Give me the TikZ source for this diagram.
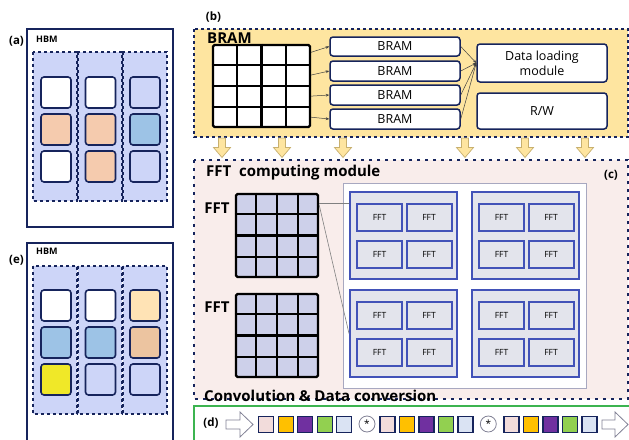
\documentclass[tikz,border=0pt]{standalone}
\usepackage{fontspec}
\setmainfont{Open Sans}
\usetikzlibrary{calc,arrows.meta}

\definecolor{navy}{RGB}{22,36,92}
\definecolor{lav}{RGB}{205,213,248}
\definecolor{peach}{RGB}{245,203,174}
\definecolor{skyb}{RGB}{157,195,230}
\definecolor{cream}{RGB}{255,227,181}
\definecolor{tanc}{RGB}{236,196,160}
\definecolor{lemon}{RGB}{240,232,40}
\definecolor{bramyel}{RGB}{254,229,160}
\definecolor{fftpink}{RGB}{249,237,235}
\definecolor{grpblue}{RGB}{66,82,184}
\definecolor{grpfill}{RGB}{227,228,236}
\definecolor{gridlav}{RGB}{205,208,234}
\definecolor{dgreen}{RGB}{60,180,80}
\definecolor{cpink}{RGB}{242,220,219}
\definecolor{cgold}{RGB}{255,192,0}
\definecolor{cpurp}{RGB}{112,48,160}
\definecolor{cgreen}{RGB}{146,208,80}
\definecolor{cblue}{RGB}{218,227,243}
\definecolor{arrowedge}{RGB}{200,176,110}
\definecolor{hollowedge}{RGB}{130,130,150}
\definecolor{framegray}{RGB}{168,168,192}

\tikzset{
  hbm/.style={draw=navy, line width=1.5pt, fill=white, minimum width=146pt, inner sep=0pt},
  hbmcol/.style={draw=navy, fill=lav, dashed, line width=1.2pt},
  hbmcell/.style={draw=navy, line width=1.6pt, rounded corners=3pt, minimum width=30pt, minimum height=31pt, inner sep=0pt},
  tag/.style={font=\bfseries\fontsize{11.5}{13}\selectfont, inner sep=0pt},
  bramcell/.style={draw=navy, line width=1.5pt, rounded corners=3pt, fill=white, minimum width=130pt, inner sep=0pt, font=\fontsize{12.5}{14}\selectfont},
  gridbox/.style={draw=black, line width=2.3pt, rounded corners=1.5pt, inner sep=0pt},
  gridline/.style={line width=2.3pt},
  link/.style={draw=black!75, line width=0.5pt},
  linktip/.style={link, -{Stealth[length=3.5pt,width=2.8pt]}},
  downarr/.style={fill=bramyel, draw=arrowedge, line width=0.7pt},
  fftgroup/.style={draw=grpblue, fill=grpfill, line width=2pt, minimum width=107pt, minimum height=87pt, inner sep=0pt},
  fftcell/.style={draw=grpblue, fill=grpfill, line width=2pt, minimum width=45pt, minimum height=27pt, inner sep=0pt, font=\fontsize{8.5}{10}\selectfont},
  headline/.style={font=\bfseries\fontsize{15}{17}\selectfont, inner sep=0pt},
  seqsq/.style={draw=navy, line width=1.3pt, minimum width=15pt, minimum height=16pt, inner sep=0pt},
  convop/.style={circle, draw=hollowedge, line width=0.8pt, fill=white, minimum size=16pt, inner sep=0pt, font=\fontsize{10}{10}\selectfont},
  hollow/.style={fill=white, draw=hollowedge, line width=0.8pt, line join=miter},
}

\begin{document}
\begin{tikzpicture}[x=1pt,y=-1pt]
\clip (0,0) rectangle (629,439);
\fill[white] (0,0) rectangle (629,439);

% ---------- HBM (a) ----------
\node[hbm, minimum height=198pt] (hbmA) at (100,128) {};
\node[tag] (labA) at (16.5,41.5) {(a)};
\node[font=\bfseries\fontsize{9}{10}\selectfont, inner sep=0pt, anchor=west] (hbmAt) at (36,39.5) {HBM};
\foreach \cx/\n in {33/1,78/2,123/3}
  \draw[hbmcol] (\cx,52) rectangle ++(44,149);
\foreach \c/\r/\col in {1/1/white,2/1/white,3/1/lav,
                        1/2/peach,2/2/peach,3/2/skyb,
                        1/3/white,2/3/peach,3/3/lav}
  \node[hbmcell, fill=\col] (a-\c-\r) at ({56+44.5*(\c-1)}, {92.5+37*(\r-1)}) {};

% ---------- HBM (e) ----------
\node[hbm, minimum height=217pt] (hbmE) at (100,351.5) {};
\node[tag] (labE) at (16.5,260.5) {(e)};
\node[font=\bfseries\fontsize{9}{10}\selectfont, inner sep=0pt, anchor=west] (hbmEt) at (36,251) {HBM};
\foreach \cx/\n in {33/1,78/2,123/3}
  \draw[hbmcol] (\cx,266) rectangle ++(44,148);
\foreach \c/\r/\col in {1/1/white,2/1/white,3/1/cream,
                        1/2/skyb,2/2/skyb,3/2/tanc,
                        1/3/lemon,2/3/lav,3/3/lav}
  \node[hbmcell, fill=\col] (e-\c-\r) at ({56+44.5*(\c-1)}, {305.5+37*(\r-1)}) {};

% ---------- BRAM panel (b) ----------
\draw[fill=bramyel, draw=navy, dashed, line width=1.3pt] (194,29) rectangle (628,137);
\node[tag] (labB) at (213.5,17) {(b)};
\node[headline, anchor=west] (bramhead) at (207,38) {BRAM};

\node[gridbox, fill=white, minimum width=97pt, minimum height=82pt] (bgrid) at (261.5,86) {};
\foreach \i in {1,2,3} {
  \draw[gridline] ($(bgrid.north west)!\i/4!(bgrid.north east)$) -- ($(bgrid.south west)!\i/4!(bgrid.south east)$);
  \draw[gridline] ($(bgrid.north west)!\i/4!(bgrid.south west)$) -- ($(bgrid.north east)!\i/4!(bgrid.south east)$);
}

\node[bramcell, minimum height=19pt] (bram1) at (395,46.5) {BRAM};
\node[bramcell, minimum height=20pt] (bram2) at (395,71) {BRAM};
\node[bramcell, minimum height=20pt] (bram3) at (395,95) {BRAM};
\node[bramcell, minimum height=20pt] (bram4) at (395,119) {BRAM};

\node[bramcell, minimum height=38pt, align=center, font=\fontsize{12.5}{15}\selectfont] (load) at (542,63) {Data loading\\module};
\node[bramcell, minimum height=36pt] (rw) at (542,111) {R/W};

\draw[linktip] ($(bgrid.north east)!0.1!(bgrid.south east)$) -- (bram1.west);
\draw[linktip] ($(bgrid.north east)!0.37!(bgrid.south east)$) -- (bram2.west);
\draw[linktip] ($(bgrid.north east)!0.62!(bgrid.south east)$) -- (bram3.west);
\draw[linktip] ($(bgrid.north east)!0.87!(bgrid.south east)$) -- (bram4.west);
\foreach \b in {1,2,3,4}
  \draw[linktip] (bram\b.east) -- (load.west);

% ---------- transfer arrows ----------
\foreach \x in {222,282,343,465,525,585}
  \draw[downarr] (\x-3.5,138) -- (\x+3.5,138) -- (\x+3.5,147.5) -- (\x+8.5,147.5) -- (\x,157.5)
                 -- (\x-8.5,147.5) -- (\x-3.5,147.5) -- cycle;

% ---------- FFT computing module (c) ----------
\draw[fill=fftpink, draw=navy, line width=1.5pt, dash pattern=on 3pt off 5pt] (194,160) rectangle (628,399);
\node[headline, anchor=west] (ffthead) at (206,173) {FFT\ \ computing module};
\node[tag] (labC) at (611,175) {(c)};

\draw[draw=framegray, line width=0.8pt, fill=white] (343,183) rectangle (586,388);

\foreach \g/\gx/\gy in {tl/403.5/235.5, tr/525.5/235.5, bl/403.5/333.5, br/525.5/333.5} {
  \node[fftgroup] (g\g) at (\gx,\gy) {};
  \node[fftcell] (g\g-1) at (\gx-24,\gy-18.5) {FFT};
  \node[fftcell] (g\g-2) at (\gx+25.5,\gy-18.5) {FFT};
  \node[fftcell] (g\g-3) at (\gx-24,\gy+18.5) {FFT};
  \node[fftcell] (g\g-4) at (\gx+25.5,\gy+18.5) {FFT};
}

\foreach \k/\gy in {1/235.5, 2/335.5} {
  \node[gridbox, fill=gridlav, minimum width=82pt, minimum height=83pt] (fgrid\k) at (277,\gy) {};
  \foreach \i in {1,2,3} {
    \draw[gridline] ($(fgrid\k.north west)!\i/4!(fgrid\k.north east)$) -- ($(fgrid\k.south west)!\i/4!(fgrid\k.south east)$);
    \draw[gridline] ($(fgrid\k.north west)!\i/4!(fgrid\k.south west)$) -- ($(fgrid\k.north east)!\i/4!(fgrid\k.south east)$);
  }
}
\node[headline] (fftlab1) at (217,208) {FFT};
\node[headline] (fftlab2) at (217,307) {FFT};

\coordinate (tap1) at ($(fgrid1.north east)!0.12!(fgrid1.south east)$);
\coordinate (tap2) at ($(fgrid1.north east)!0.14!(fgrid1.south east)$);
\draw[draw=gray, line width=0.6pt] (tap1) -- (tap1 -| gtl.west);
\draw[draw=gray, line width=0.6pt] (tap2) -- (gbl.west);

\node[headline, anchor=west] (convhead) at (204,396) {Convolution \& Data conversion};

% ---------- data stream (d) ----------
\draw[draw=dgreen, line width=1.5pt, fill=white] (194,406) rectangle (640,450);
\node[tag] (labD) at (211,423) {(d)};

\draw[hollow] (226,420) -- (240,420) -- (240,412) -- (253,424.5) -- (240,437) -- (240,429) -- (226,429) -- cycle;
\draw[hollow] (602,420) -- (615,420) -- (615,412) -- (628,424.5) -- (615,437) -- (615,429) -- (602,429) -- cycle;

\foreach \g/\sx in {1/258, 2/379.3, 3/503.3}
  \foreach \i/\col in {0/cpink,1/cgold,2/cpurp,3/cgreen,4/cblue}
    \node[seqsq, fill=\col, anchor=north west] (s-\g-\i) at ({\sx+19.5*\i},416) {};

\node[convop] (conv1) at (367,424) {*};
\node[convop] (conv2) at (488.3,424) {*};
\end{tikzpicture}
\end{document}
